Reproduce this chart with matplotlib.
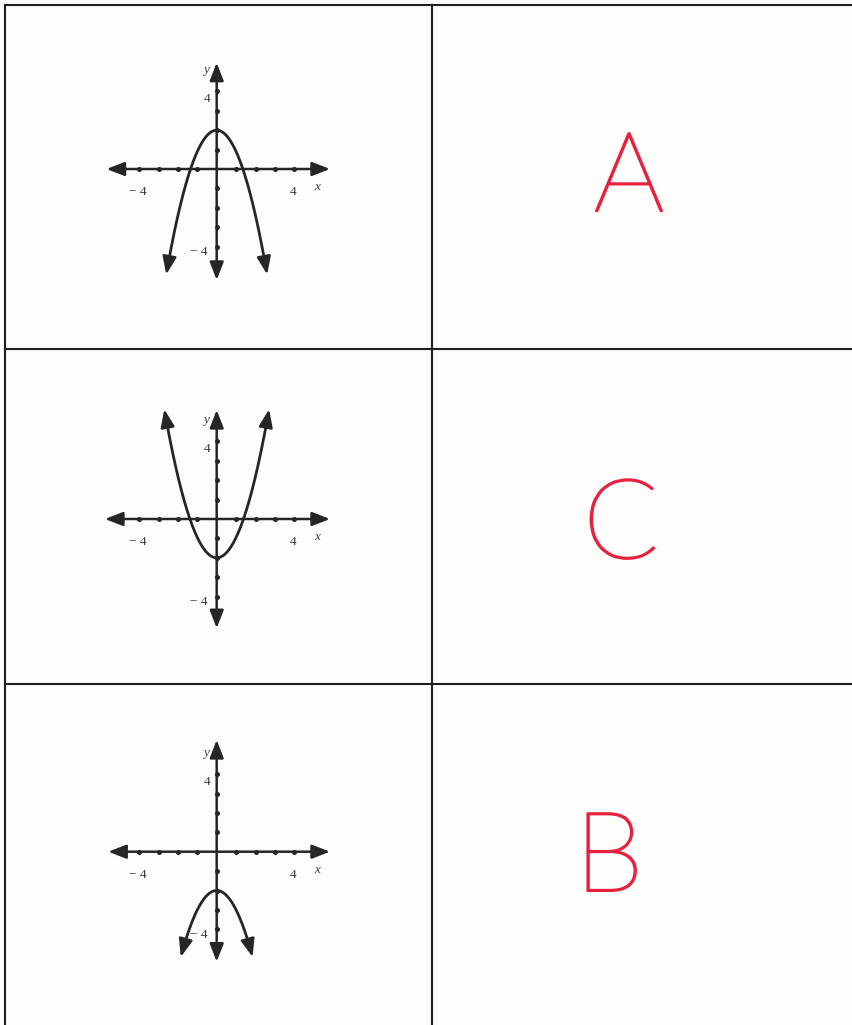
import matplotlib
matplotlib.use("Agg")
import matplotlib.pyplot as plt
import matplotlib.patheffects as pe
import numpy as np

W, H = 852, 1025
PX_PER_UNIT = 19.4
HALF = 6.5

# table grid (pixels)
row_lines = [5, 349, 684]
col_lines = [5, 432]

# graph origins (pixels) for the three rows
origins = [(216.7, 169.0), (216.7, 519.0), (216.7, 851.7)]

# axis arrow extents per graph: x_left, x_right, y_bottom, y_top
axis_left = [-5.68, -5.76, -5.59]
axis_right = [5.84, 5.84, 5.84]
axis_bottom = [-5.72, -5.63, -5.67]
axis_top = [5.48, 5.62, 5.76]

# parabolas y = a*x^2 + k, drawn between -x_end and x_end
coef_a = [-1.1, 1.05, -1.0]
coef_k = [2.0, -2.0, -2.0]
x_end = [2.6, 2.7, 1.85]

ticks = [-4, -3, -2, -1, 1, 2, 3, 4]
answers = ["A", "C", "B"]
answer_pos = [(629, 181), (621, 528), (609, 861)]

ink = "#262626"
red = "#e8213f"

fig = plt.figure(figsize=(W / 100, H / 100), dpi=100)
fig.patch.set_facecolor("#fdfdfc")

page = fig.add_axes([0, 0, 1, 1])
page.set_xlim(0, W)
page.set_ylim(H, 0)
page.axis("off")

for y in row_lines:
    page.plot([col_lines[0], W], [y, y], color="#1e1e1e", lw=1.5)
for x in col_lines:
    page.plot([x, x], [row_lines[0], H], color="#1e1e1e", lw=1.5)

# red marker-pen answers: thin font thickened with a stroke
for letter, (x, y) in zip(answers, answer_pos):
    page.text(x, y, letter, color=red, fontsize=80, ha="center", va="center",
              family=["Lato", "DejaVu Sans"], fontweight="light",
              path_effects=[pe.withStroke(linewidth=1.5, foreground=red)])


def arrow(ax, start, end):
    ax.annotate("", xy=end, xytext=start,
                arrowprops=dict(arrowstyle="-|>,head_length=0.9,head_width=0.35",
                                color=ink, lw=1.8, shrinkA=0, shrinkB=0,
                                mutation_scale=12))


serif = ["Liberation Serif", "DejaVu Serif"]

for i, (ox, oy) in enumerate(origins):
    size = 2 * HALF * PX_PER_UNIT
    ax = fig.add_axes([(ox - size / 2) / W, (H - oy - size / 2) / H, size / W, size / H])
    ax.set_xlim(-HALF, HALF)
    ax.set_ylim(-HALF, HALF)
    ax.axis("off")

    # axes with arrowheads at both ends
    arrow(ax, (0, 0), (axis_left[i], 0))
    arrow(ax, (0, 0), (axis_right[i], 0))
    arrow(ax, (0, 0), (0, axis_bottom[i]))
    arrow(ax, (0, 0), (0, axis_top[i]))

    ax.plot(ticks, [0] * len(ticks), ls="none", marker="o", ms=2.6, color=ink)
    ax.plot([0] * len(ticks), ticks, ls="none", marker="o", ms=2.6, color=ink)

    # the parabola, with arrowheads on both ends
    xs = np.linspace(-x_end[i], x_end[i], 200)
    ys = coef_a[i] * xs ** 2 + coef_k[i]
    ax.plot(xs[3:-3], ys[3:-3], color=ink, lw=2.0, solid_capstyle="round")
    arrow(ax, (xs[6], ys[6]), (xs[0], ys[0]))
    arrow(ax, (xs[-7], ys[-7]), (xs[-1], ys[-1]))

    lab = dict(color="#3a3a3a", fontsize=9.5, family=serif, ha="center", va="center")
    ax.text(-4.05, -1.2, "\u2212 4", **lab)
    ax.text(3.95, -1.2, "4", **lab)
    ax.text(5.2, -0.95, "x", style="italic", **lab)
    ax.text(-0.55, 5.1, "y", style="italic", **lab)
    ax.text(-0.5, 3.6, "4", **lab)
    ax.text(-0.9, -4.3, "\u2212 4", **lab)

fig.savefig("out.png", dpi=100, facecolor=fig.get_facecolor())
